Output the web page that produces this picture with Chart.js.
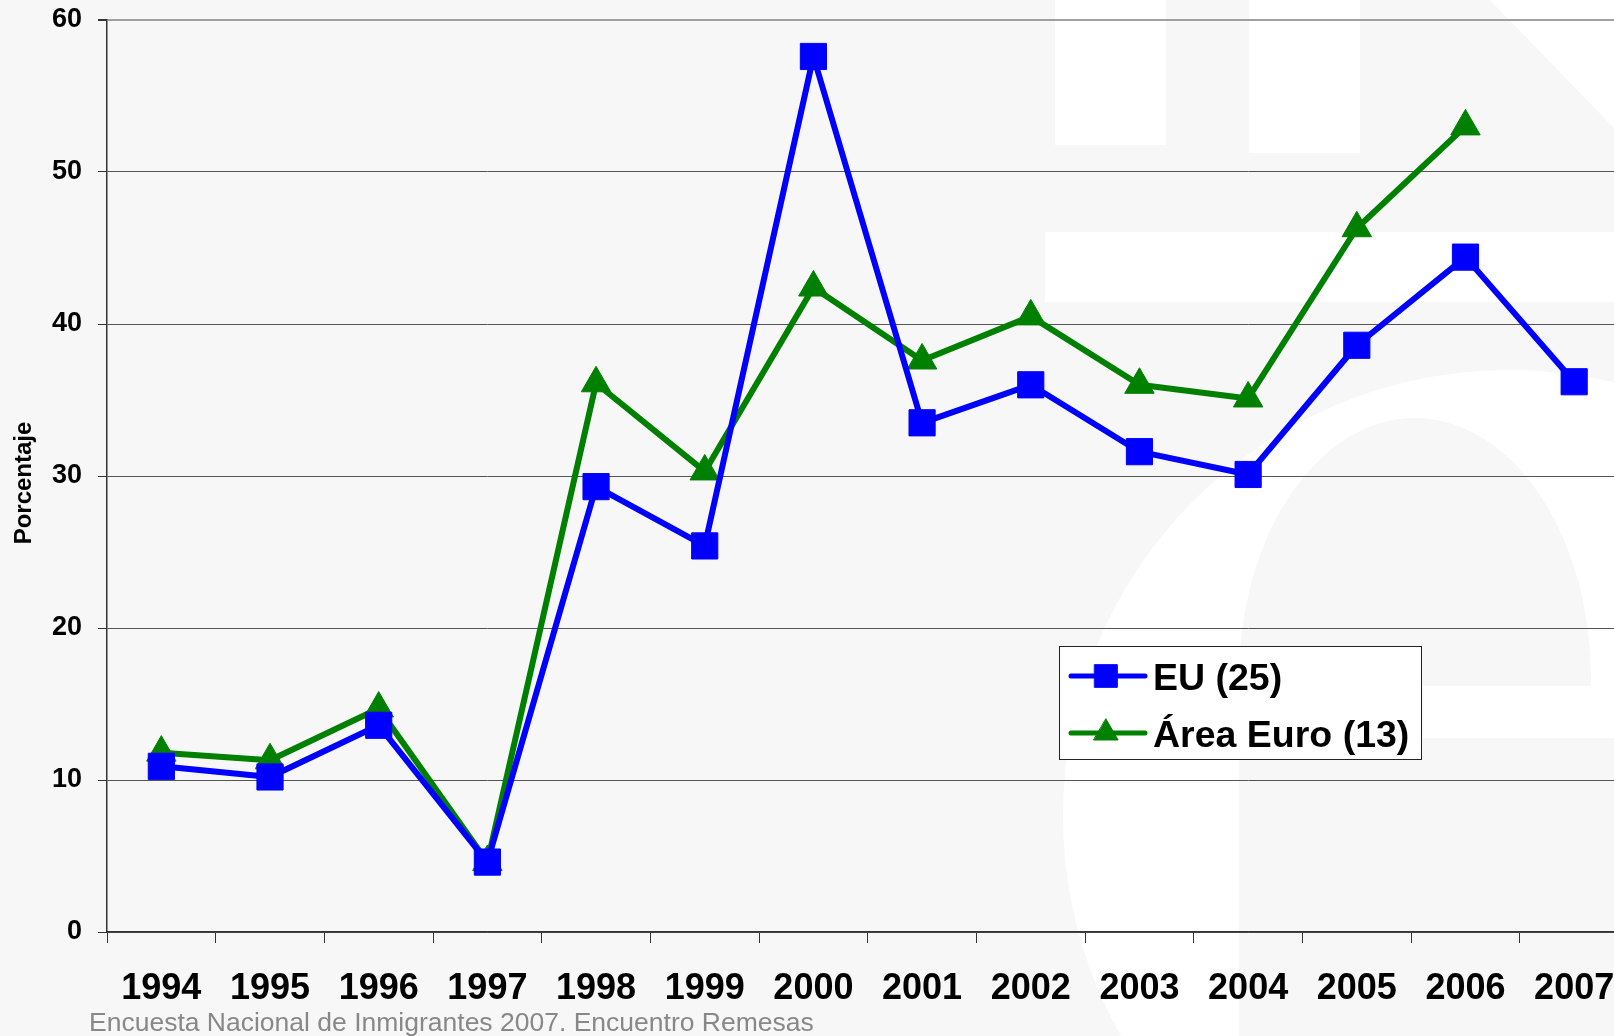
<!DOCTYPE html>
<html><head><meta charset="utf-8">
<script src="https://cdn.jsdelivr.net/npm/chart.js@4/dist/chart.umd.min.js"></script>
<style>
html,body{margin:0;padding:0;overflow:hidden;width:1614px;height:1036px;background:#f7f7f7;}
#wrap{position:relative;width:1614px;height:1036px;overflow:hidden;background:#f7f7f7;}
.w{position:absolute;background:#fff;}
.g{position:absolute;background:#f7f7f7;}
canvas{position:absolute;left:0;top:0;}
#src{position:absolute;left:89px;top:1009px;font:26.5px/26px "Liberation Sans",Arial,sans-serif;color:#888;white-space:nowrap;}
</style></head>
<body><div id="wrap">
<div class="w" style="left:1055px;top:0;width:111px;height:145px"></div>
<div class="w" style="left:1249px;top:0;width:111px;height:153px"></div>
<div class="w" style="left:1490px;top:0;width:124px;height:128px;clip-path:polygon(0 0,100% 0,100% 100%)"></div>
<div class="w" style="left:1045px;top:232px;width:600px;height:70px"></div>
<div class="w" style="left:1063px;top:370px;width:892px;height:892px;border-radius:50%"></div>
<div class="g" style="left:1239px;top:418px;width:352px;height:700px;border-radius:176px 176px 0 0 / 261px 261px 0 0"></div>
<div class="w" style="left:1423px;top:686px;width:200px;height:52px"></div>
<div class="g" style="left:1591px;top:738px;width:40px;height:300px"></div>
<canvas id="c" width="1648" height="1036"></canvas>
<div id="src">Encuesta Nacional de Inmigrantes 2007. Encuentro Remesas</div>
</div>
<script>
const years = ['1994','1995','1996','1997','1998','1999','2000','2001','2002','2003','2004','2005','2006','2007'];
const euLabel = 'EU (25)';
const euValues = [10.9, 10.2, 13.6, 4.6, 29.3, 25.4, 57.6, 33.5, 36.0, 31.6, 30.1, 38.6, 44.4, 36.2];
const euroLabel = 'Área Euro (13)';
const euroValues = [11.8, 11.3, 14.7, 4.6, 36.1, 30.3, 42.4, 37.6, 40.5, 36.0, 35.1, 46.3, 53.0, null];
const yMin = 0, yMax = 60, yStep = 10;
const yTitle = 'Porcentaje';

const FONT = '"Liberation Sans", Arial, sans-serif';

const boxLegend = {
  id: 'boxLegend',
  afterDraw(chart) {
    const ctx = chart.ctx;
    ctx.save();
    // y axis title
    ctx.save();
    ctx.translate(24, 483);
    ctx.rotate(-Math.PI / 2);
    ctx.fillStyle = '#000';
    ctx.font = 'bold 24px ' + FONT;
    ctx.textAlign = 'center';
    ctx.textBaseline = 'middle';
    ctx.fillText(yTitle, 0, 0);
    ctx.restore();
    // legend box
    const bx = 1059.5, by = 646.5, bw = 362, bh = 113;
    ctx.fillStyle = '#fff';
    ctx.fillRect(bx, by, bw, bh);
    ctx.strokeStyle = '#222';
    ctx.lineWidth = 1;
    ctx.strokeRect(bx, by, bw, bh);
    const rows = [676, 733];
    chart.data.datasets.forEach((ds, i) => {
      const y = rows[i];
      ctx.strokeStyle = ds.borderColor;
      ctx.lineWidth = 5;
      ctx.lineCap = 'round';
      ctx.beginPath(); ctx.moveTo(1071, y); ctx.lineTo(1145, y); ctx.stroke();
      ctx.fillStyle = ds.backgroundColor;
      ctx.strokeStyle = ds.borderColor;
      ctx.lineWidth = 1;
      Chart.helpers.drawPoint(ctx, {pointStyle: ds.pointStyle, rotation: 0, radius: ds.pointStyle === 'rect' ? 16 : 14, borderWidth: 1}, 1106, y);
      ctx.fillStyle = '#000';
      ctx.font = 'bold 37.5px ' + FONT;
      ctx.textBaseline = 'middle';
      ctx.textAlign = 'left';
      ctx.fillText(ds.label, 1153, y + 4);
    });
    ctx.restore();
  }
};

new Chart(document.getElementById('c'), {
  type: 'line',
  data: {
    labels: years,
    datasets: [
      {label: euLabel, data: euValues, borderColor: '#0000ff', backgroundColor: '#0000ff',
       borderWidth: 6, pointStyle: 'rect', pointRadius: 18.5, pointBorderWidth: 1,
       pointBackgroundColor: '#0000ff', pointBorderColor: '#0000ff', borderJoinStyle: 'round', tension: 0},
      {label: euroLabel, data: euroValues, borderColor: '#008000', backgroundColor: '#008000',
       borderWidth: 6, pointStyle: 'triangle', pointRadius: 17, pointBorderWidth: 1,
       pointBackgroundColor: '#008000', pointBorderColor: '#008000', borderJoinStyle: 'round', tension: 0}
    ]
  },
  options: {
    responsive: false,
    animation: false,
    layout: {padding: {top: 20, left: 0, right: 0, bottom: 0}},
    plugins: {legend: {display: false}, tooltip: {enabled: false}},
    scales: {
      x: {
        offset: true,
        grid: {display: true, drawOnChartArea: false, drawTicks: true, tickLength: 11, offset: true, color: '#333', lineWidth: 1},
        border: {display: true, color: '#333', width: 1.5},
        ticks: {font: {family: FONT, size: 36, weight: 'bold'}, color: '#000', padding: 24, maxRotation: 0, autoSkip: false},
        afterFit(s) { s.height = 104; }
      },
      y: {
        min: yMin, max: yMax,
        ticks: {stepSize: yStep, font: {family: FONT, size: 27, weight: 'bold'}, color: '#000', padding: 16},
        grid: {
          color: c => (c.tick && c.tick.value === yMax) ? '#a0a0a0' : '#555',
          lineWidth: c => (c.tick && c.tick.value === yMax) ? 2 : 1,
          tickColor: '#333', tickLength: 9
        },
        border: {display: true, color: '#333', width: 1.5},
        title: {display: false},
        afterFit(s) { s.width = 107; s.paddingTop = 0; s.paddingBottom = 0; }
      }
    }
  },
  plugins: [boxLegend]
});
</script>
</body></html>
